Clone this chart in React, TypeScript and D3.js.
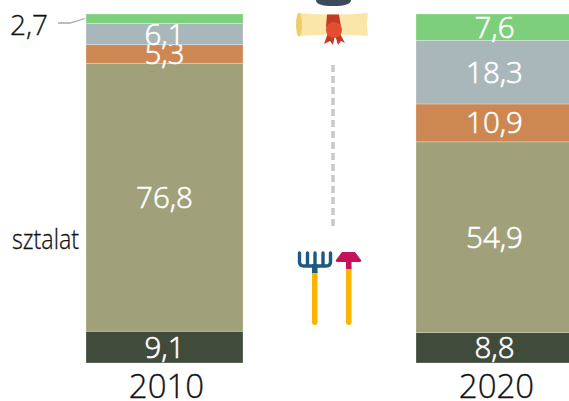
import React from "react";
import * as d3 from "d3";

const years = ["2010", "2020"];
const colors = ["#414b3c", "#a0a07a", "#cc8752", "#a9b7bb", "#7ecf7b"];
const values2010 = [9.1, 76.8, 5.3, 6.1, 2.7];
const values2020 = [8.8, 54.9, 10.9, 18.3, 7.6];
const labels2010 = ["9,1", "76,8", "5,3", "6,1", "2,7"];
const labels2020 = ["8,8", "54,9", "10,9", "18,3", "7,6"];
const barLefts = [86, 416];
const BAR_W = 157;
const font = "'Open Sans', sans-serif";

function Bar({ i, values, labels }: { i: number; values: number[]; labels: string[] }) {
  const stack = d3.cumsum(values);
  const y = d3.scaleLinear().domain([0, d3.sum(values)]).range([363, 14]);
  const x = barLefts[i];
  return (
    <g>
      {values.map((v, k) => {
        const top = y(stack[k]);
        const bot = y(stack[k] - v);
        const outside = labels[k] === "2,7";
        return (
          <g key={k}>
            <rect x={x} y={top} width={BAR_W} height={bot - top} fill={colors[k]} stroke="#ffffff" strokeOpacity={0.35} strokeWidth={0.75} />
            {!outside && (
              <text x={x + BAR_W / 2} y={(top + bot) / 2 + 10.5} textAnchor="middle" fontFamily={font} fontWeight={300} fontSize={29.5} fill="#ffffff" stroke="#ffffff" strokeWidth={0.6}>
                {labels[k]}
              </text>
            )}
          </g>
        );
      })}
      <text x={x + BAR_W / 2 + 2} y={398} textAnchor="middle" fontFamily={font} fontWeight={300} fontSize={33} fill="#111111" stroke="#111111" strokeWidth={0.3}>
        {years[i]}
      </text>
    </g>
  );
}

export default function App() {
  return (
    <svg width={569} height={401} style={{ position: "absolute", left: 0, top: 0, background: "#fff" }}>
      <Bar i={0} values={values2010} labels={labels2010} />
      <Bar i={1} values={values2020} labels={labels2020} />

      <text x={10} y={35} fontFamily={font} fontWeight={300} fontSize={28} fill="#111111" stroke="#111111" strokeWidth={0.3}>2,7</text>
      <path d="M58 23 H70 L85 18.5" fill="none" stroke="#a6a6a6" strokeWidth={1.3} />
      <text x={79} y={249} textAnchor="end" fontFamily={font} fontWeight={300} fontSize={27} textLength={67} lengthAdjust="spacingAndGlyphs" fill="#111111" stroke="#111111" strokeWidth={0.3}>sztalat</text>

      <line x1={333} x2={333} y1={65} y2={228} stroke="#c8c8c8" strokeWidth={3.5} strokeDasharray="7 4" />

      {/* diploma */}
      <path d="M316 0 H351 Q351 6 333 6 Q316 6 316 0 Z" fill="#3c4a5c" />
      <path d="M299 13 Q333 16 368 13 Q366 25 368 36 Q333 33 299 36 Z" fill="#fae6a8" />
      <ellipse cx={299} cy={24.5} rx={3} ry={12} fill="#efcd6a" />
      <path d="M327 14.5 H339 L341 27 H326 Z" fill="#c23a22" />
      <path d="M329 30 L324 44 L330 41 L333 45 L335 35 L338 45 L341 41 L345 43 L338 30 Z" fill="#c23a22" />
      <circle cx={334} cy={30} r={8} fill="#e44d30" />

      {/* rake */}
      <rect x={312} y={270} width={5.5} height={55} rx={2.75} fill="#fdb400" />
      <rect x={312} y={264} width={5.5} height={9} fill="#1e5a80" />
      <path d="M299.5 253 V262 Q299.5 266 304 266 H326 Q330.5 266 330.5 262 V253 M307.5 253 V266 M315 253 V266 M323 253 V266" fill="none" stroke="#1e5a80" strokeWidth={3.4} strokeLinecap="round" />
      {/* hoe */}
      <rect x={346} y={265} width={5.5} height={60} rx={2.75} fill="#fdb400" />
      <rect x={346} y={262} width={5.5} height={7} fill="#c5115a" />
      <path d="M342 252 H355 L361 260 Q362 262 359 262 H338 Q335 262 336 260 Z" fill="#c5115a" />
    </svg>
  );
}
